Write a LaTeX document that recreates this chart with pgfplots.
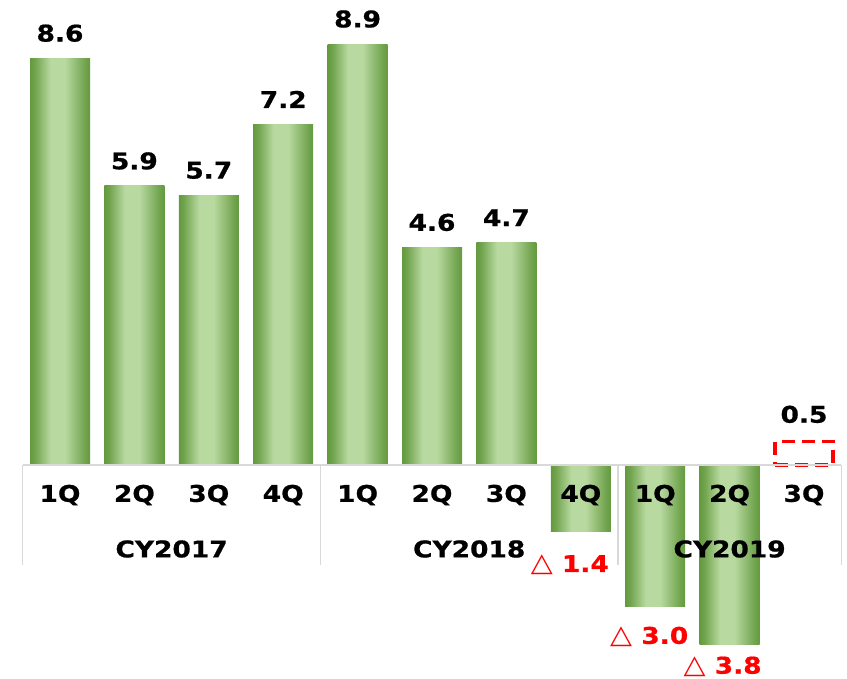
\documentclass[border=0pt]{standalone}
\usepackage{pgfplots}
\pgfplotsset{compat=1.18}
\usepackage{fontspec}
\setmainfont{DejaVu Sans}[FakeStretch=1.15, BoldFeatures={FakeBold=0.8}]
\newfontfamily\trifont{DejaVu Sans}[FakeStretch=1.1]
\definecolor{gdark}{RGB}{100,154,63}
\definecolor{glight}{RGB}{184,217,160}
\definecolor{sepgray}{RGB}{217,217,217}
\pgfdeclarehorizontalshading{gbarsh}{100bp}{color(0bp)=(gdark); color(25bp)=(gdark); color(29bp)=(gdark!85!glight); color(42bp)=(glight); color(54bp)=(glight); color(71bp)=(gdark!85!glight); color(75bp)=(gdark); color(100bp)=(gdark)}
\newcommand{\lbl}{\bfseries\fontsize{23}{27}\selectfont}
\pgfplotsset{
  gbar/.style={draw=none, shade, shading=gbarsh, shading angle=0},
  vlbl/.style={point meta=explicit symbolic, nodes near coords,
    every node near coord/.append style={font=\lbl, text=black, anchor=center, yshift=25pt}},
}
\begin{document}
\begin{tikzpicture}
\path[use as bounding box] (0,0) rectangle (847pt,679pt);
\begin{axis}[
  scale only axis, x=74.4pt, y=47.3pt,
  xmin=-0.5, xmax=10.5, ymin=-4.5, ymax=9.8,
  at={(22.8pt,1.15pt)}, anchor=south west,
  axis lines=none, clip=false,
  ybar, bar width=60pt, bar shift=0pt,
]
% bars (one plot each so every bar gets its own shading)
\addplot[gbar, vlbl] coordinates {(0,8.6)[8.6]};
\addplot[gbar, vlbl] coordinates {(1,5.9)[5.9]};
\addplot[gbar, vlbl] coordinates {(2,5.7)[5.7]};
\addplot[gbar, vlbl] coordinates {(3,7.2)[7.2]};
\addplot[gbar, vlbl] coordinates {(4,8.9)[8.9]};
\addplot[gbar, vlbl] coordinates {(5,4.6)[4.6]};
\addplot[gbar, vlbl] coordinates {(6,4.7)[4.7]};
\addplot[gbar] coordinates {(7,-1.4)};
\addplot[gbar] coordinates {(8,-3.0)};
\addplot[gbar] coordinates {(9,-3.8)};
% forecast (dashed)
\addplot[draw=red, fill=none, line width=3.2pt, dash pattern=on 13pt off 7pt, bar width=58pt,
  point meta=explicit symbolic, nodes near coords,
  every node near coord/.append style={font=\lbl, text=black, anchor=center, yshift=27pt}]
  coordinates {(10,0.5)[0.5]};
% category frame
\draw[sepgray, line width=1.2pt] (axis cs:-0.5,0) -- (axis cs:10.5,0);
\draw[sepgray, line width=1.2pt] (axis cs:-0.5,0) -- (axis cs:-0.5,-2.114);
\draw[sepgray, line width=1.2pt] (axis cs:3.5,0) -- (axis cs:3.5,-2.114);
\draw[sepgray, line width=1.2pt] (axis cs:7.5,0) -- (axis cs:7.5,-2.114);
\draw[sepgray, line width=1.2pt] (axis cs:10.5,0) -- (axis cs:10.5,-2.114);
% quarter labels
\node[font=\lbl] at (axis cs:0,-0.634) {1Q};
\node[font=\lbl] at (axis cs:1,-0.634) {2Q};
\node[font=\lbl] at (axis cs:2,-0.634) {3Q};
\node[font=\lbl] at (axis cs:3,-0.634) {4Q};
\node[font=\lbl] at (axis cs:4,-0.634) {1Q};
\node[font=\lbl] at (axis cs:5,-0.634) {2Q};
\node[font=\lbl] at (axis cs:6,-0.634) {3Q};
\node[font=\lbl] at (axis cs:7,-0.634) {4Q};
\node[font=\lbl] at (axis cs:8,-0.634) {1Q};
\node[font=\lbl] at (axis cs:9,-0.634) {2Q};
\node[font=\lbl] at (axis cs:10,-0.634) {3Q};
\node[font=\lbl] at (axis cs:1.5,-1.776) {CY2017};
\node[font=\lbl] at (axis cs:5.5,-1.776) {CY2018};
\node[font=\lbl] at (axis cs:9,-1.776) {CY2019};
% negative value labels
\node[font=\lbl, text=red, xshift=-11pt, yshift=-34pt] at (axis cs:7,-1.4) {{\mdseries\trifont\fontsize{26}{27}\selectfont △} 1.4};
\node[font=\lbl, text=red, xshift=-6pt, yshift=-30pt] at (axis cs:8,-3.0) {{\mdseries\trifont\fontsize{26}{27}\selectfont △} 3.0};
\node[font=\lbl, text=red, xshift=-7pt, yshift=-22pt] at (axis cs:9,-3.8) {{\mdseries\trifont\fontsize{26}{27}\selectfont △} 3.8};
\end{axis}
\end{tikzpicture}
\end{document}
